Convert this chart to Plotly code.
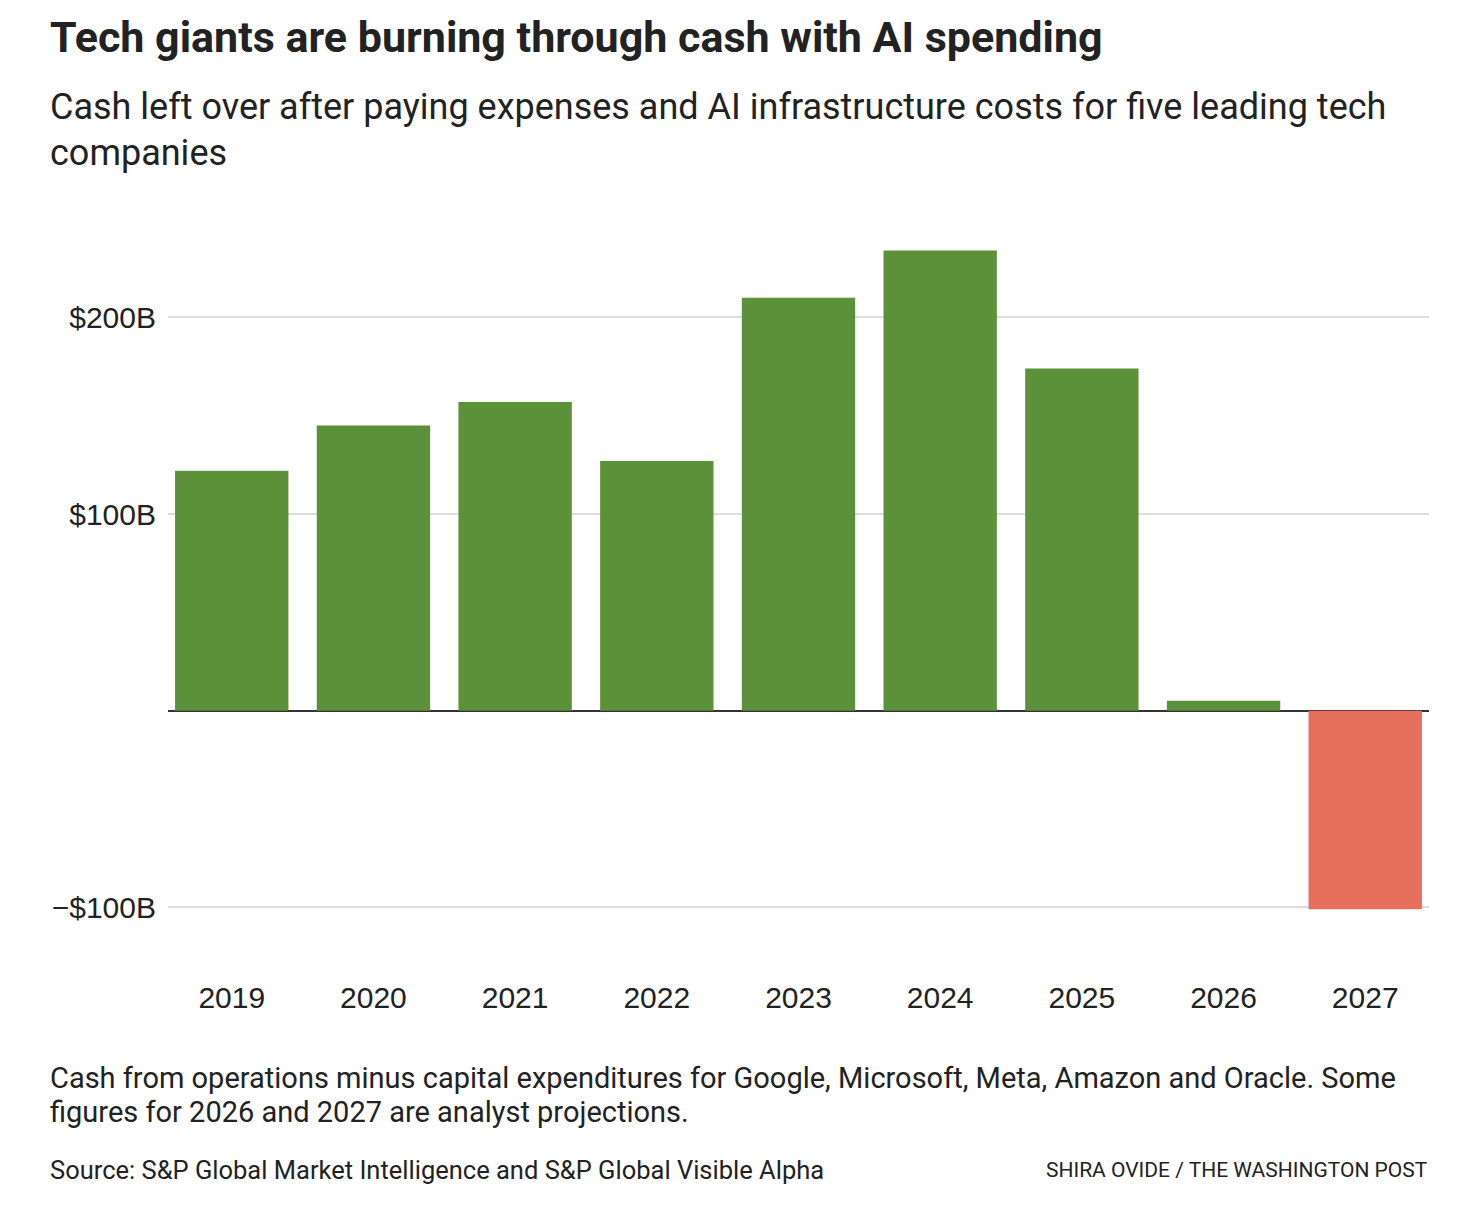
import plotly.graph_objects as go

years = ["2019", "2020", "2021", "2022", "2023", "2024", "2025", "2026", "2027"]
free_cash_flow_b = [122, 145, 157, 127, 210, 234, 174, 5, -101]
y_tick_vals = [-100, 100, 200]
y_tick_text = ["\u2212$100B", "$100B", "$200B"]

GREEN = "#5b9139"
RED = "#e66f5e"
TEXT = "#222222"

OFF = 8  # default body margin of the page
W, H = 1478 - 2 * OFF, 1210 - 2 * OFF
L, T = 168 - OFF, 219 - OFF
R = W - (1429 - OFF)
B = H - (927 - OFF)

def px(x):
    return (x - OFF - L) / (W - L - R)

def py(y):
    return 1 - (y - OFF - T) / (H - T - B)

colors = [GREEN if v >= 0 else RED for v in free_cash_flow_b]

fig = go.Figure(go.Bar(x=years, y=free_cash_flow_b, marker=dict(color=colors, line=dict(width=0)),
                       hoverinfo="x+y"))

cond = "Roboto, sans-serif"
reg = "Liberation Sans, Arial, sans-serif"

fig.update_layout(
    width=W, height=H,
    margin=dict(l=L, r=R, t=T, b=B, pad=0),
    paper_bgcolor="white", plot_bgcolor="white",
    bargap=0.2,
    showlegend=False,
    xaxis=dict(type="category", range=[-0.45, 8.45], showgrid=False, showline=False, zeroline=False,
               ticks="", tickfont=dict(family=reg, size=30, color=TEXT), ticklabelstandoff=50),
    yaxis=dict(range=[-110, 250], tickvals=y_tick_vals, ticktext=y_tick_text,
               showgrid=True, gridcolor="#dddddd", gridwidth=1.5,
               zeroline=True, zerolinecolor="#333333", zerolinewidth=1.8,
               showline=False, ticks="", tickfont=dict(family=reg, size=30, color=TEXT),
               ticklabelstandoff=11),
)

ann = [
    dict(text="<b>Tech giants are burning through cash with AI spending</b>", x=px(48), y=py(37),
         font=dict(family=cond, size=43, color=TEXT)),
    dict(text="Cash left over after paying expenses and AI infrastructure costs for five leading tech",
         x=px(48), y=py(107), font=dict(family=cond, size=36, color=TEXT)),
    dict(text="companies", x=px(48), y=py(153), font=dict(family=cond, size=36, color=TEXT)),
    dict(text="Cash from operations minus capital expenditures for Google, Microsoft, Meta, Amazon and Oracle. Some",
         x=px(48), y=py(1078), font=dict(family=cond, size=29, color=TEXT)),
    dict(text="figures for 2026 and 2027 are analyst projections.", x=px(48), y=py(1112),
         font=dict(family=cond, size=29, color=TEXT)),
    dict(text="Source: S&P Global Market Intelligence and S&P Global Visible Alpha", x=px(48), y=py(1170),
         font=dict(family=cond, size=25.5, color=TEXT)),
]
annotations = []
for a in ann:
    a.update(xref="paper", yref="paper", xanchor="left", yanchor="middle", showarrow=False)
    annotations.append(a)
annotations.append(dict(text="SHIRA OVIDE / THE WASHINGTON POST", x=px(1430), y=py(1170), xref="paper",
                        yref="paper", xanchor="right", yanchor="middle", showarrow=False,
                        font=dict(family=cond, size=21, color=TEXT)))
fig.update_layout(annotations=annotations)

fig.write_html("out.html")
